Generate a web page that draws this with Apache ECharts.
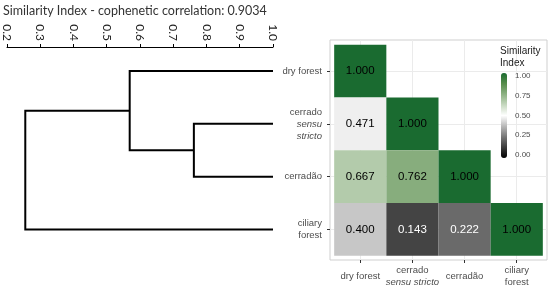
<!DOCTYPE html>
<html>
<head>
<meta charset="utf-8">
<script src="https://cdn.jsdelivr.net/npm/echarts@6/dist/echarts.min.js"></script>
<style>
  html, body { margin: 0; padding: 0; background: #fff; }
  #main { width: 550px; height: 285px; }
</style>
</head>
<body>
<div id="main"></div>
<script>
// sites (same order in dendrogram and matrix)
var rowLabels = ['dry forest', 'cerrado\n{it|sensu}\n{it|stricto}', 'cerradão', 'ciliary\nforest'];
var colLabels = ['dry forest', 'cerrado\n{it|sensu stricto}', 'cerradão', 'ciliary\nforest'];

// lower triangle of the similarity matrix, one array per row
var simDry = [1.000];
var simSensu = [0.471, 1.000];
var simCerradao = [0.667, 0.762, 1.000];
var simCiliary = [0.400, 0.143, 0.222, 1.000];

// hclust style merge table (negative = leaf, positive = earlier merge), heights = similarity
var mergeA = [-2, -1, 2];
var mergeB = [-3, 1, -4];
var mergeHeight = [0.762, 0.569, 0.255];

var titleText = 'Similarity Index - cophenetic correlation: 0.9034';

// build tiles
var rows = [simDry, simSensu, simCerradao, simCiliary];
var tiles = [];
for (var r = 0; r < rows.length; r++) {
    for (var c = 0; c < rows[r].length; c++) {
        tiles.push([c, r, rows[r][c]]);
    }
}

// build dendrogram segments
var nodeX = [], nodeY = [];
function pos(id) {
    if (id < 0) return [1.0, -id - 1];          // leaf sits at similarity 1
    return [nodeX[id - 1], nodeY[id - 1]];
}
var dendro = [];
for (var i = 0; i < mergeHeight.length; i++) {
    var a = pos(mergeA[i]), b = pos(mergeB[i]), h = mergeHeight[i];
    dendro.push({coords: [a, [h, a[1]], [h, b[1]], b]});
    nodeX.push(h);
    nodeY.push((a[1] + b[1]) / 2);
}

var grey = '#4d4d4d';
var chart = echarts.init(document.getElementById('main'));

var option = {
    animation: false,
    title: [{
        text: titleText,
        left: 3, top: 4, padding: 0,
        textStyle: {fontFamily: 'Lato', fontSize: 12.5, fontWeight: 'normal', color: '#333'}
    }, {
        text: 'Similarity\nIndex',
        left: 500, top: 45, padding: 0,
        textStyle: {fontFamily: 'Liberation Sans', fontSize: 10, lineHeight: 12, fontWeight: 'normal', color: '#1a1a1a'}
    }],
    grid: [
        {left: 7, right: 277, top: 47, bottom: 25, outerBoundsMode: 'none'},
        {left: 330, right: 3, top: 40, bottom: 25, outerBoundsMode: 'none',
            show: true, borderColor: '#cfcfcf', borderWidth: 1, backgroundColor: '#fff'},
        {left: 501, width: 6, top: 76, height: 79, outerBoundsMode: 'none'}
    ],
    xAxis: [{
        gridIndex: 0, type: 'value', position: 'top',
        min: 0.2, max: 1.0, interval: 0.1,
        axisLine: {onZero: false, lineStyle: {color: '#000', width: 1}},
        axisTick: {length: 3, lineStyle: {color: '#000'}},
        axisLabel: {rotate: 90, margin: 6, fontFamily: 'Lato', fontSize: 12, color: '#222',
            formatter: function (v) { return v.toFixed(1); }},
        splitLine: {show: false}
    }, {
        gridIndex: 1, type: 'value',
        min: -0.58, max: 3.58,
        axisLine: {show: false, onZero: false},
        axisTick: {length: 3, lineStyle: {color: '#333'}, customValues: [0, 1, 2, 3]},
        axisLabel: {customValues: [0, 1, 2, 3], margin: 16, verticalAlign: 'middle',
            fontFamily: 'Liberation Sans', fontSize: 9.5, lineHeight: 12, color: grey,
            formatter: function (v) { return colLabels[Math.round(v)] || ''; },
            rich: {it: {fontStyle: 'italic', fontFamily: 'Liberation Sans', fontSize: 9.5, lineHeight: 12, color: grey}}},
        splitLine: {show: true, lineStyle: {color: '#ebebeb', width: 1}}
    }, {
        gridIndex: 2, type: 'value', show: false, min: 0, max: 1
    }],
    yAxis: [{
        gridIndex: 0, type: 'value', inverse: true, show: false,
        min: -0.457, max: 3.58
    }, {
        gridIndex: 1, type: 'value', inverse: true,
        min: -0.59, max: 3.58,
        axisLine: {show: false, onZero: false},
        axisTick: {length: 3, lineStyle: {color: '#333'}, customValues: [0, 1, 2, 3]},
        axisLabel: {customValues: [0, 1, 2, 3], margin: 8, align: 'right',
            fontFamily: 'Liberation Sans', fontSize: 9.5, lineHeight: 12, color: grey,
            formatter: function (v) { return rowLabels[Math.round(v)] || ''; },
            rich: {it: {fontStyle: 'italic', fontFamily: 'Liberation Sans', fontSize: 9.5, lineHeight: 12, color: grey, align: 'right'}}},
        splitLine: {show: true, lineStyle: {color: '#ebebeb', width: 1}}
    }, {
        gridIndex: 2, type: 'value', position: 'right',
        min: 0, max: 1, interval: 0.25,
        axisLine: {show: false, onZero: false},
        axisTick: {show: true, inside: true, length: 2, lineStyle: {color: '#fff'}},
        axisLabel: {margin: 8, fontFamily: 'Liberation Sans', fontSize: 8, color: grey,
            formatter: function (v) { return v.toFixed(2); }},
        splitLine: {show: false}
    }],
    visualMap: {
        type: 'continuous', min: 0, max: 1, dimension: 2, seriesIndex: 1,
        calculable: false, left: 501, top: 73, padding: 0,
        itemWidth: 6, itemHeight: 85, text: null, showLabel: false,
        inRange: {color: ['#000000', '#3b3b3b', '#777777', '#b9b9b9', '#ffffff',
                          '#c6d8bf', '#8cb182', '#568c4a', '#1a6b30']}
    },
    series: [{
        type: 'lines', coordinateSystem: 'cartesian2d',
        xAxisIndex: 0, yAxisIndex: 0, polyline: true, silent: true,
        lineStyle: {color: '#000', width: 2, opacity: 1},
        data: dendro
    }, {
        type: 'custom', xAxisIndex: 1, yAxisIndex: 1,
        data: tiles,
        renderItem: function (params, api) {
            var x = api.value(0), y = api.value(1), v = api.value(2);
            var p0 = api.coord([x - 0.5, y - 0.5]);
            var p1 = api.coord([x + 0.5, y + 0.5]);
            var cx = (p0[0] + p1[0]) / 2, cy = (p0[1] + p1[1]) / 2;
            return {
                type: 'group',
                children: [{
                    type: 'rect',
                    shape: {x: p0[0], y: p0[1], width: p1[0] - p0[0], height: p1[1] - p0[1]},
                    style: {fill: api.visual('color')}
                }, {
                    type: 'text',
                    x: cx, y: cy,
                    style: {text: v.toFixed(3), align: 'center', verticalAlign: 'middle',
                        fontFamily: 'Liberation Sans', fontSize: 11.5,
                        fill: v < 0.3 ? '#fff' : '#000'}
                }]
            };
        }
    }]
};

chart.setOption(option);
</script>
</body>
</html>
